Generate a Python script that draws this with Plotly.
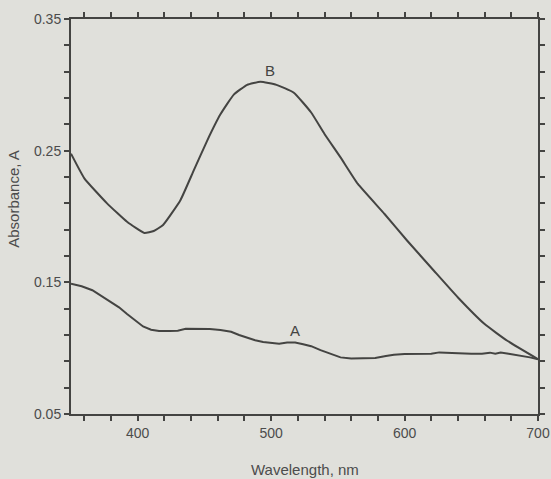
import plotly.graph_objects as go

# curve A (lower trace)
wavelength_a = [350, 358, 366, 372, 379, 386, 392, 398, 404, 410, 416, 424, 430, 436,
                445, 454, 462, 470, 476, 482, 488, 494, 500, 506, 512, 518, 524, 530,
                537, 545, 552, 560, 570, 578, 586, 592, 600, 610, 620, 626, 632, 640,
                650, 658, 664, 668, 672, 678, 686, 694, 700]
absorbance_a = [0.149, 0.147, 0.144, 0.140, 0.136, 0.131, 0.126, 0.121, 0.1165, 0.114,
                0.113, 0.113, 0.1133, 0.1147, 0.1147, 0.1145, 0.1138, 0.1125, 0.110,
                0.108, 0.106, 0.1047, 0.104, 0.1033, 0.1043, 0.1043, 0.103, 0.1015,
                0.0985, 0.0955, 0.093, 0.0922, 0.0922, 0.0925, 0.094, 0.095, 0.0955,
                0.0958, 0.0958, 0.0968, 0.0965, 0.096, 0.0958, 0.0958, 0.0966, 0.0958,
                0.0967, 0.0958, 0.0945, 0.093, 0.0915]

# curve B (upper trace)
wavelength_b = [350, 360, 377, 392, 405, 412, 419, 432, 442, 452, 462, 472, 482, 492,
                504, 517, 530, 540, 552, 565, 585, 602, 622, 640, 660, 677, 700]
absorbance_b = [0.2477, 0.229, 0.210, 0.196, 0.1875, 0.189, 0.1936, 0.2124, 0.235,
                0.2575, 0.2776, 0.2926, 0.300, 0.3024, 0.300, 0.294, 0.279, 0.2627,
                0.2449, 0.2247, 0.2019, 0.1816, 0.1588, 0.1385, 0.1183, 0.1056, 0.0917]

x_ticks = [400, 500, 600, 700]
y_ticks = [0.05, 0.15, 0.25, 0.35]

ink = "#444442"
text_col = "#4c4c4c"
paper = "#e0e0db"

fig = go.Figure()
fig.add_trace(go.Scatter(x=wavelength_a, y=absorbance_a, mode="lines",
                         line=dict(color=ink, width=2)))
fig.add_trace(go.Scatter(x=wavelength_b, y=absorbance_b, mode="lines",
                         line=dict(color=ink, width=2, shape="spline", smoothing=0.4)))

fig.add_annotation(x=518, y=0.1135, text="A", showarrow=False,
                   font=dict(family="Liberation Sans", size=15, color=ink))
fig.add_annotation(x=499, y=0.311, text="B", showarrow=False,
                   font=dict(family="Liberation Sans", size=15, color=ink))

axis_common = dict(showline=True, linecolor=ink, linewidth=2, mirror="ticks",
                   ticks="outside", ticklen=5, tickwidth=1.5, tickcolor=ink,
                   showgrid=False, zeroline=False, automargin=False,
                   tickfont=dict(family="Liberation Sans", size=14, color=text_col))

fig.update_xaxes(range=[350, 700], tickvals=x_ticks,
                 minor=dict(tick0=360, dtick=20, ticks="outside", ticklen=5,
                            tickcolor=ink, tickwidth=1.5),
                 **axis_common)
fig.update_yaxes(range=[0.05, 0.35], tickvals=y_ticks, tickformat=".2f",
                 minor=dict(tick0=0.05, dtick=0.02, ticks="outside", ticklen=5,
                            tickcolor=ink, tickwidth=1.5),
                 **axis_common)

# axis titles placed as in the scan
fig.add_annotation(xref="paper", yref="paper", x=0.5, y=-0.14,
                   xanchor="center", yanchor="middle",
                   text="Wavelength, nm", showarrow=False,
                   font=dict(family="Liberation Sans", size=15, color=text_col))
fig.add_annotation(xref="paper", yref="paper", x=-0.122, y=0.545, textangle=-90,
                   xanchor="center", yanchor="middle",
                   text="Absorbance, A", showarrow=False,
                   font=dict(family="Liberation Sans", size=15, color=text_col))

fig.update_layout(width=551, height=479, showlegend=False,
                  margin=dict(l=71, r=13, t=19, b=65),
                  paper_bgcolor=paper, plot_bgcolor=paper)

fig.write_html("out.html", config={"displayModeBar": False},
               post_script="document.body.style.margin='0';")
